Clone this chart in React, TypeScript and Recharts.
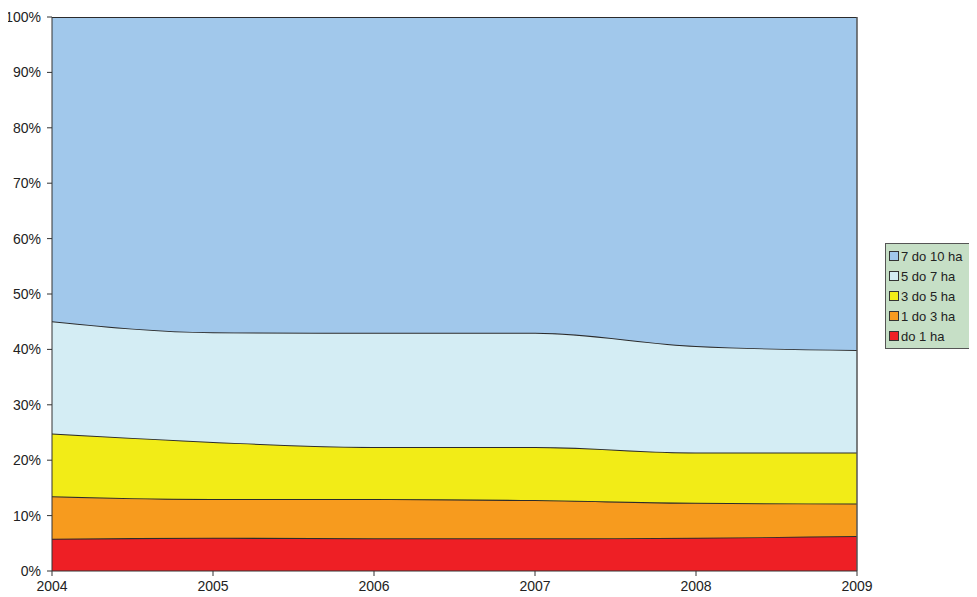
import React from "react";
import { AreaChart, Area, XAxis, YAxis, ReferenceLine } from "recharts";

const years: string[] = ["2004", "2005", "2006", "2007", "2008", "2009"];

// shares in % per size class
const do1: number[] = [5.8, 6.0, 5.9, 5.9, 6.0, 6.3];
const od1do3: number[] = [7.7, 7.0, 7.1, 6.9, 6.3, 5.9];
const od3do5: number[] = [11.3, 10.3, 9.4, 9.6, 9.1, 9.2];
const od5do7: number[] = [20.3, 19.8, 20.6, 20.6, 19.2, 18.5];
const od7do10: number[] = [54.9, 56.9, 57.0, 57.0, 59.4, 60.1];

const yTicks: number[] = [0, 10, 20, 30, 40, 50, 60, 70, 80, 90, 100];

const series = [
  { key: "d1", name: "do 1 ha", color: "#ee1f25", values: do1 },
  { key: "d3", name: "1 do 3 ha", color: "#f79b1e", values: od1do3 },
  { key: "d5", name: "3 do 5 ha", color: "#f2ec17", values: od3do5 },
  { key: "d7", name: "5 do 7 ha", color: "#d4edf4", values: od5do7 },
  { key: "d10", name: "7 do 10 ha", color: "#a1c8eb", values: od7do10 },
];

const data = years.map((year, i) => {
  const row: { [k: string]: string | number } = { year };
  series.forEach((s) => {
    row[s.key] = s.values[i];
  });
  return row;
});

const font = "'Liberation Sans', Arial, sans-serif";

const LegendBox = () => (
  <div
    style={{
      position: "absolute",
      left: 877,
      top: 235,
      width: 88,
      background: "#c6dfc6",
      border: "1px solid #555",
      padding: "2px 0 2px 3px",
      fontFamily: font,
      fontSize: 13,
      color: "#222",
    }}
  >
    {[...series].reverse().map((s) => (
      <div
        key={s.key}
        style={{ display: "flex", alignItems: "center", height: 20 }}
      >
        <span
          style={{
            display: "inline-block",
            width: 8,
            height: 8,
            background: s.color,
            border: "1px solid #333",
            marginRight: 2,
          }}
        />
        {s.name}
      </div>
    ))}
  </div>
);

export default function App() {
  return (
    <div style={{ position: "relative", width: 961, height: 589 }}>
      <style>{".recharts-surface, .recharts-wrapper { overflow: visible !important; }"}</style>
      <AreaChart
        width={961}
        height={589}
        data={data}
        margin={{ top: 9, right: 112, bottom: 0, left: 0 }}
      >
        <XAxis
          dataKey="year"
          tickLine={{ stroke: "#333" }}
          axisLine={{ stroke: "#333" }}
          tickSize={5}
          tickMargin={5}
          tick={{ fill: "#222", fontSize: 14, fontFamily: font }}
          interval={0}
          height={26}
        />
        <YAxis
          domain={[0, 100]}
          ticks={yTicks}
          allowDataOverflow
          tickFormatter={(v: number) => `${v}%`}
          tickLine={{ stroke: "#333" }}
          axisLine={{ stroke: "#333" }}
          tickSize={5}
          tickMargin={6}
          tick={{ fill: "#222", fontSize: 14, fontFamily: font }}
          width={44}
        />
        {series.map((s) => (
          <Area
            key={s.key}
            type="monotone"
            dataKey={s.key}
            name={s.name}
            stackId="a"
            fill={s.color}
            fillOpacity={1}
            stroke="#2b2b2b"
            strokeWidth={2}
            isAnimationActive={false}
          />
        ))}
        <ReferenceLine x="2009" stroke="#555" strokeWidth={1.5} />
      </AreaChart>
      <LegendBox />
    </div>
  );
}
